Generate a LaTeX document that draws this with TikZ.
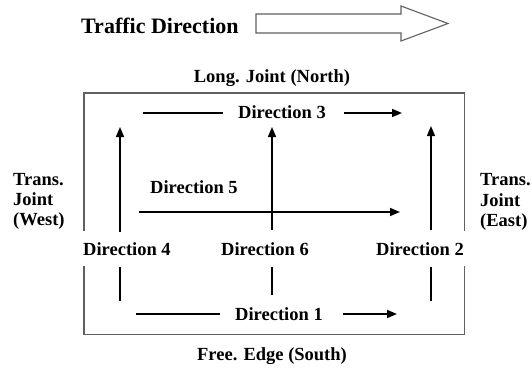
\documentclass[tikz,border=0pt]{standalone}
\usepackage{fontspec}
\setmainfont{Liberation Serif}
\usetikzlibrary{arrows.meta}
\definecolor{boxgray}{HTML}{606060}
\tikzset{
  lbl/.style={font=\fontsize{18.5}{20}\selectfont\bfseries, inner sep=0pt, anchor=base},
  big/.style={font=\fontsize{22}{24}\selectfont\bfseries, inner sep=0pt, anchor=base west},
  mask/.style={lbl, fill=white, inner xsep=1pt, inner ysep=11pt},
  dirline/.style={line width=1.5pt, black},
  dirarrow/.style={dirline, -{Triangle[length=10pt,width=8pt]}},
  frame/.style={draw=boxgray, line width=1.1pt}
}
\begin{document}
\begin{tikzpicture}[x=1pt,y=-1pt]
\useasboundingbox (0,0) rectangle (532,367);
% traffic direction
\node[big] (traffic) at (81,33) {Traffic Direction};
\draw[draw=boxgray, line width=1.1pt, fill=white, line join=miter]
  (256,14) -- (401,14) -- (401,6) -- (448,23.5) -- (401,41) -- (401,33) -- (256,33) -- cycle;
% frame
\node[lbl] (north) at (272,82) {Long. Joint (North)};
\draw[frame] (84,93) rectangle (464.5,334.5);
\node[lbl] (south) at (272,360) {Free. Edge (South)};
% side labels
\node[lbl, anchor=base west] (w1) at (13,185) {Trans.};
\node[lbl, anchor=base west] (w2) at (13,205) {Joint};
\node[lbl, anchor=base west] (w3) at (13,225) {(West)};
\node[lbl, anchor=base west] (e1) at (480,185) {Trans.};
\node[lbl, anchor=base west] (e2) at (480,206) {Joint};
\node[lbl, anchor=base west] (e3) at (480,226) {(East)};
% direction labels
\node[lbl] (d3) at (282,118.5) {Direction 3};
\node[lbl, anchor=base west] (d5) at (150,193) {Direction 5};
\node[mask] (d4) at (127,255) {Direction 4};
\node[mask] (d6) at (265,255) {Direction 6};
\node[mask] (d2) at (420,255) {Direction 2};
\node[lbl] (d1) at (279,320.5) {Direction 1};
% coordinates
\coordinate (d3a) at (143,113); \coordinate (d3b) at (223,113);
\coordinate (d3c) at (344,113); \coordinate (d3d) at (402,113);
\coordinate (d4a) at (120,301); \coordinate (d4b) at (120,267);
\coordinate (d4c) at (120,232); \coordinate (d4d) at (120,127);
\coordinate (d5a) at (139,212); \coordinate (d5b) at (400,212);
\coordinate (d6a) at (272,295); \coordinate (d6b) at (272,267);
\coordinate (d6c) at (272,230); \coordinate (d6d) at (272,127);
\coordinate (d2a) at (431,301); \coordinate (d2b) at (431,267);
\coordinate (d2c) at (431,230); \coordinate (d2d) at (431,126);
\coordinate (d1a) at (136,314); \coordinate (d1b) at (220,314);
\coordinate (d1c) at (343,314); \coordinate (d1d) at (397,314);
% connectors
\draw[dirline] (d3a) -- (d3b);
\draw[dirarrow] (d3c) -- (d3d);
\draw[dirline] (d4a) -- (d4b);
\draw[dirarrow] (d4c) -- (d4d);
\draw[dirarrow] (d5a) -- (d5b);
\draw[dirline] (d6a) -- (d6b);
\draw[dirarrow] (d6c) -- (d6d);
\draw[dirline] (d2a) -- (d2b);
\draw[dirarrow] (d2c) -- (d2d);
\draw[dirline] (d1a) -- (d1b);
\draw[dirarrow] (d1c) -- (d1d);
\end{tikzpicture}
\end{document}
